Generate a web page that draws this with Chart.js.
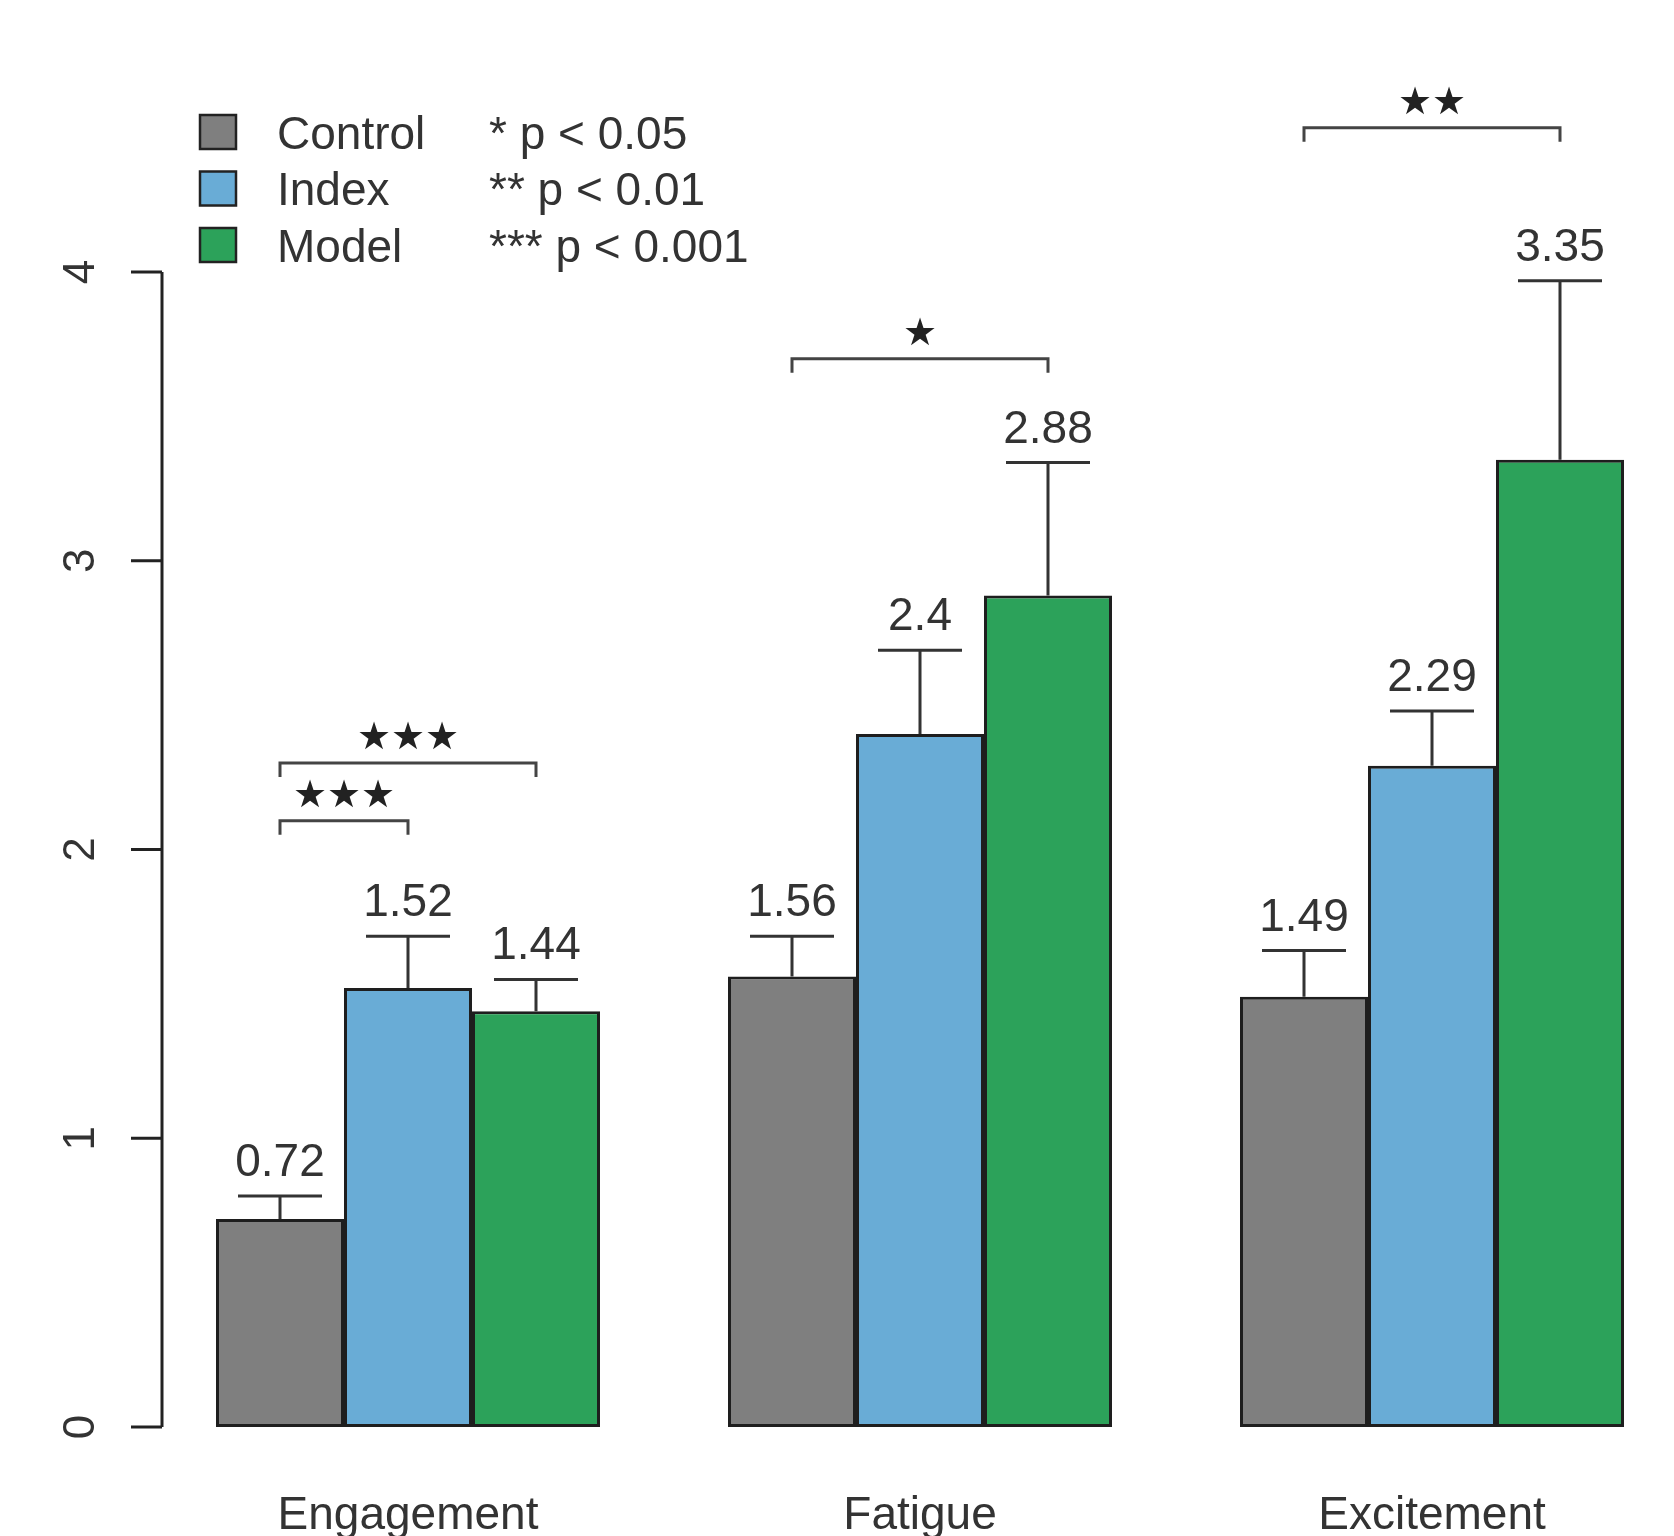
<!DOCTYPE html>
<html>
<head>
<meta charset="utf-8">
<script src="https://cdn.jsdelivr.net/npm/chart.js@4.4.1/dist/chart.umd.min.js"></script>
<style>
    html, body { margin: 0; padding: 0; background: #fff; overflow: hidden; }
    #wrap { width: 1674px; height: 1536px; overflow: hidden; position: relative; }
</style>
</head>
<body>
<div id="wrap"><canvas id="chart" width="1700" height="1536"></canvas></div>
<script>
// Dados
const categories = ['Engagement', 'Fatigue', 'Excitement'];
const groupNames = ['Control', 'Index', 'Model'];
const controlMeans = [0.72, 1.56, 1.49];
const indexMeans = [1.52, 2.4, 2.29];
const modelMeans = [1.44, 2.88, 3.35];
// topo das barras de erro
const controlErrTop = [0.80, 1.70, 1.65];
const indexErrTop = [1.70, 2.69, 2.48];
const modelErrTop = [1.55, 3.34, 3.97];
const groupColors = ['#7f7f7f', '#69acd6', '#2ca25a'];
const yTicks = [0, 1, 2, 3, 4];
const pLegend = ['* p < 0.05', '** p < 0.01', '*** p < 0.001'];

// Colchetes de significância
const bracketCategory = [0, 0, 1, 2];
const bracketFrom = [0, 0, 0, 0];
const bracketTo = [1, 2, 2, 2];
const bracketLevel = [2.10, 2.30, 3.70, 4.50];
const bracketStars = ['★★★', '★★★', '★', '★★'];

const means = [controlMeans, indexMeans, modelMeans];
const errTops = [controlErrTop, indexErrTop, modelErrTop];
const TEXT = '#333';
const FONT = '"Liberation Sans", Arial, sans-serif';

const overlay = {
    id: 'overlay',
    afterDatasetsDraw(chart) {
        const ctx = chart.ctx;
        const xs = chart.scales.x;
        const ys = chart.scales.y;
        ctx.save();

        // Barras de erro e rótulos de valor
        means.forEach((serie, d) => {
            const meta = chart.getDatasetMeta(d);
            serie.forEach((v, i) => {
                const bx = meta.data[i].x;
                const y0 = ys.getPixelForValue(v);
                const y1 = ys.getPixelForValue(errTops[d][i]);
                ctx.strokeStyle = '#333';
                ctx.lineWidth = 3;
                ctx.beginPath();
                ctx.moveTo(bx, y0);
                ctx.lineTo(bx, y1);
                ctx.moveTo(bx - 42, y1);
                ctx.lineTo(bx + 42, y1);
                ctx.stroke();
                ctx.fillStyle = TEXT;
                ctx.font = '46px ' + FONT;
                ctx.textAlign = 'center';
                ctx.textBaseline = 'alphabetic';
                ctx.fillText(String(v), bx, y1 - 20);
            });
        });

        // Colchetes
        bracketCategory.forEach((c, k) => {
            const xa = chart.getDatasetMeta(bracketFrom[k]).data[c].x;
            const xb = chart.getDatasetMeta(bracketTo[k]).data[c].x;
            const yy = ys.getPixelForValue(bracketLevel[k]);
            ctx.strokeStyle = '#444';
            ctx.lineWidth = 3;
            ctx.beginPath();
            ctx.moveTo(xa, yy + 14);
            ctx.lineTo(xa, yy);
            ctx.lineTo(xb, yy);
            ctx.lineTo(xb, yy + 14);
            ctx.stroke();
            ctx.fillStyle = '#222';
            ctx.font = '38px "DejaVu Sans", sans-serif';
            ctx.textAlign = 'center';
            ctx.textBaseline = 'middle';
            ctx.fillText(bracketStars[k], (xa + xb) / 2, yy - 24);
        });

        // Eixo y no estilo R
        const ax = chart.chartArea.left + 10;
        ctx.strokeStyle = '#222';
        ctx.lineWidth = 3;
        ctx.beginPath();
        ctx.moveTo(ax, ys.getPixelForValue(0));
        ctx.lineTo(ax, ys.getPixelForValue(4));
        yTicks.forEach(t => {
            const ty = ys.getPixelForValue(t);
            ctx.moveTo(ax, ty);
            ctx.lineTo(ax - 31, ty);
        });
        ctx.stroke();
        ctx.fillStyle = TEXT;
        ctx.font = '44px ' + FONT;
        yTicks.forEach(t => {
            const ty = ys.getPixelForValue(t);
            ctx.save();
            ctx.translate(94, ty);
            ctx.rotate(-Math.PI / 2);
            ctx.textAlign = 'center';
            ctx.textBaseline = 'alphabetic';
            ctx.fillText(String(t), 0, 0);
            ctx.restore();
        });

        // Rótulos das categorias
        ctx.font = '46px ' + FONT;
        ctx.textAlign = 'center';
        ctx.textBaseline = 'alphabetic';
        categories.forEach((c, i) => {
            ctx.fillText(c, xs.getPixelForValue(i), 1529);
        });

        // Legenda
        groupNames.forEach((g, i) => {
            const cy = 132 + i * 56.5;
            ctx.fillStyle = groupColors[i];
            ctx.fillRect(200, cy - 17, 36, 34);
            ctx.strokeStyle = '#222';
            ctx.lineWidth = 2.5;
            ctx.strokeRect(200, cy - 17, 36, 34);
            ctx.fillStyle = TEXT;
            ctx.font = '46px ' + FONT;
            ctx.textAlign = 'left';
            ctx.fillText(g, 277, cy + 16.5);
            ctx.fillText(pLegend[i], 489, cy + 16.5);
        });

        ctx.restore();
    }
};

new Chart(document.getElementById('chart'), {
    type: 'bar',
    data: {
        labels: categories,
        datasets: groupNames.map((g, d) => ({
            label: g,
            data: means[d],
            backgroundColor: groupColors[d],
            borderColor: '#1e1e1e',
            borderWidth: 3,
            borderSkipped: false,
            categoryPercentage: 0.75,
            barPercentage: 1.0
        }))
    },
    options: {
        responsive: false,
        animation: false,
        devicePixelRatio: 1,
        layout: { padding: { left: 152, right: 12, top: 272, bottom: 109 } },
        scales: {
            x: { display: false, offset: true },
            y: { display: false, min: 0, max: 4 }
        },
        plugins: {
            legend: { display: false },
            tooltip: { enabled: false }
        }
    },
    plugins: [overlay]
});
</script>
</body>
</html>
